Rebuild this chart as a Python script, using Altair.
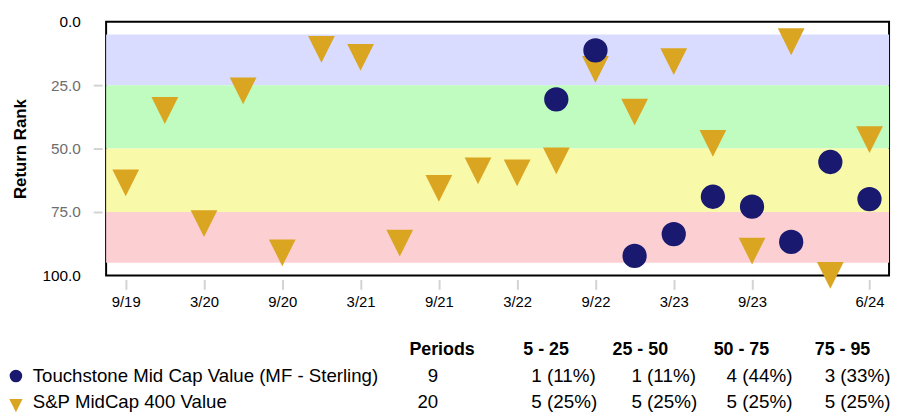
import json
import altair as alt
import pandas as pd

# ---------------- data ----------------
quarters = ["9/19", "12/19", "3/20", "6/20", "9/20", "12/20", "3/21", "6/21", "9/21", "12/21",
            "3/22", "6/22", "9/22", "12/22", "3/23", "6/23", "9/23", "12/23", "3/24", "6/24"]
bench_rank = [63.5, 35.0, 79.6, 27.3, 91.1, 10.9, 14.1, 87.3, 65.7, 58.8,
              59.6, 54.9, 18.8, 35.6, 15.7, 48.0, 90.4, 7.9, 100.0, 46.5]
fund_quarters = ["6/22", "9/22", "12/22", "3/23", "6/23", "9/23", "12/23", "3/24", "6/24"]
fund_rank = [30.6, 11.3, 92.3, 83.7, 69.0, 72.9, 86.8, 55.3, 69.9]
tick_labels = ["9/19", "3/20", "9/20", "3/21", "9/21", "3/22", "9/22", "3/23", "9/23", "6/24"]
y_ticks = [0, 25, 50, 75, 100]

band_names = ["5 - 25", "25 - 50", "50 - 75", "75 - 95"]
band_lo = [5, 25, 50, 75]
band_hi = [25, 50, 75, 95]

series_names = ["Touchstone Mid Cap Value (MF - Sterling)", "S&P MidCap 400 Value"]
header = ["Periods", "5 - 25", "25 - 50", "50 - 75", "75 - 95"]
fund_row = ["9", "1 (11%)", "1 (11%)", "4 (44%)", "3 (33%)"]
bench_row = ["20", "5 (25%)", "5 (25%)", "5 (25%)", "5 (25%)"]

# ---------------- styles / layout ----------------
band_colors = ["#D9DCFE", "#C0FBBF", "#F9F9AA", "#FCCFD3"]
FUND_COLOR = "#191970"
BENCH_COLOR = "#DAA520"
FONT = "Liberation Sans"
TRI = "M-1,-1L1,-1L0,1Z"

W, H = 790, 256
PAD = {"left": 99, "top": 12, "right": 6, "bottom": 137}

# positions in svg pixels (converted to plot-group coordinates below)
header_x = [405, 520, 610, 712, 814]
value_x = [528, 629, 725, 824]
count_x = 434
row_y = [348.5, 375.5, 402]
legend_text_x = 25
legend_sym_x = 8
legend_sym_y = [369.5, 399.4]

# ---------------- tables ----------------
bench_df = pd.DataFrame({"idx": list(range(len(quarters))), "quarter": quarters, "rank": bench_rank})
fund_df = pd.DataFrame({"idx": [quarters.index(q) for q in fund_quarters],
                        "quarter": fund_quarters, "rank": fund_rank})
band_df = pd.DataFrame({"band": band_names, "lo": band_lo, "hi": band_hi})

y_scale = alt.Scale(domain=[0, 100], reverse=True, nice=False, zero=False)
y_axis = alt.Axis(
    values=y_ticks, format=".1f", title="Return Rank",
    titleFont=FONT, titleFontSize=17, titleFontWeight="bold", titleColor="black",
    titlePadding=13,
    labelFont=FONT, labelFontSize=15.5,
    labelColor={"condition": {"test": "datum.value == 0 || datum.value == 100", "value": "#000000"},
                "value": "#6E6E6E"},
    tickColor={"condition": {"test": "datum.value == 0 || datum.value == 100", "value": "transparent"},
               "value": "#D3D3D3"},
    tickWidth=2, tickSize=9, offset=4, labelPadding=13,
    domain=False, grid=False,
)
y_enc = alt.Y("rank:Q", scale=y_scale, axis=y_axis, title="Return Rank")

x_enc = alt.X(
    "idx:Q",
    scale=alt.Scale(domain=[-0.5, len(quarters) - 0.5], nice=False, zero=False),
    axis=alt.Axis(
        values=[quarters.index(t) for t in tick_labels],
        labelExpr=json.dumps(quarters) + "[datum.value]",
        title=None, labelFont=FONT, labelFontSize=15, labelColor="black",
        tickColor="#D3D3D3", tickWidth=2, tickSize=10, offset=4, labelPadding=5,
        domain=False, grid=False,
    ),
)

bands = alt.Chart(band_df).mark_rect().encode(
    x=alt.value(0), x2=alt.value(W),
    y=alt.Y("lo:Q", scale=y_scale, axis=y_axis, title="Return Rank"),
    y2="hi:Q",
    color=alt.Color("band:N", scale=alt.Scale(domain=band_names, range=band_colors), legend=None),
)

tri = alt.Chart(bench_df).mark_point(shape=TRI, filled=True, opacity=1, size=729,
                                     color=BENCH_COLOR, strokeWidth=0).encode(x=x_enc, y=y_enc)
circ = alt.Chart(fund_df).mark_circle(size=600, opacity=1, color=FUND_COLOR).encode(x=x_enc, y=y_enc)

plot = alt.layer(bands, tri, circ)

# ---------------- table below ----------------
def pos_df(texts, xs, ys):
    return pd.DataFrame({"text": texts,
                         "px": [v - PAD["left"] for v in xs],
                         "py": [v - PAD["top"] for v in ys]})

xy = dict(x=alt.X("px:Q", scale=None, axis=None), y=alt.Y("py:Q", scale=None, axis=None))

head_layer = alt.Chart(pos_df(header, header_x, [row_y[0]] * 5)).mark_text(
    align="left", baseline="alphabetic", font=FONT, fontSize=18, fontWeight="bold", color="black"
).encode(text="text:N", **xy)

count_layer = alt.Chart(pos_df([fund_row[0], bench_row[0]], [count_x] * 2, row_y[1:])).mark_text(
    align="right", baseline="alphabetic", font=FONT, fontSize=18.8, color="black"
).encode(text="text:N", **xy)

vals = fund_row[1:] + bench_row[1:]
val_layer = alt.Chart(pos_df(vals, value_x * 2, [row_y[1]] * 4 + [row_y[2]] * 4)).mark_text(
    align="left", baseline="alphabetic", font=FONT, fontSize=19, color="black"
).encode(text="text:N", **xy)

name_layer = alt.Chart(pos_df(series_names, [legend_text_x] * 2, row_y[1:])).mark_text(
    align="left", baseline="alphabetic", font=FONT, fontSize=18.8, color="black"
).encode(text="text:N", **xy)

sym_circ = alt.Chart(pos_df([series_names[0]], [legend_sym_x], [legend_sym_y[0]])).mark_circle(
    size=160, opacity=1, color=FUND_COLOR).encode(**xy)
sym_tri = alt.Chart(pos_df([series_names[1]], [legend_sym_x], [legend_sym_y[1]])).mark_point(
    shape=TRI, filled=True, opacity=1, size=180, color=BENCH_COLOR, strokeWidth=0).encode(**xy)

chart = alt.layer(
    plot, head_layer, count_layer, val_layer, name_layer, sym_circ, sym_tri
).resolve_scale(x="independent", y="independent").properties(
    width=W, height=H, padding=PAD, autosize=alt.AutoSizeParams(type="none"),
    background="white",
).configure_view(stroke="black", strokeWidth=2)

chart.save("out.html", embed_options={"renderer": "svg", "actions": False})
